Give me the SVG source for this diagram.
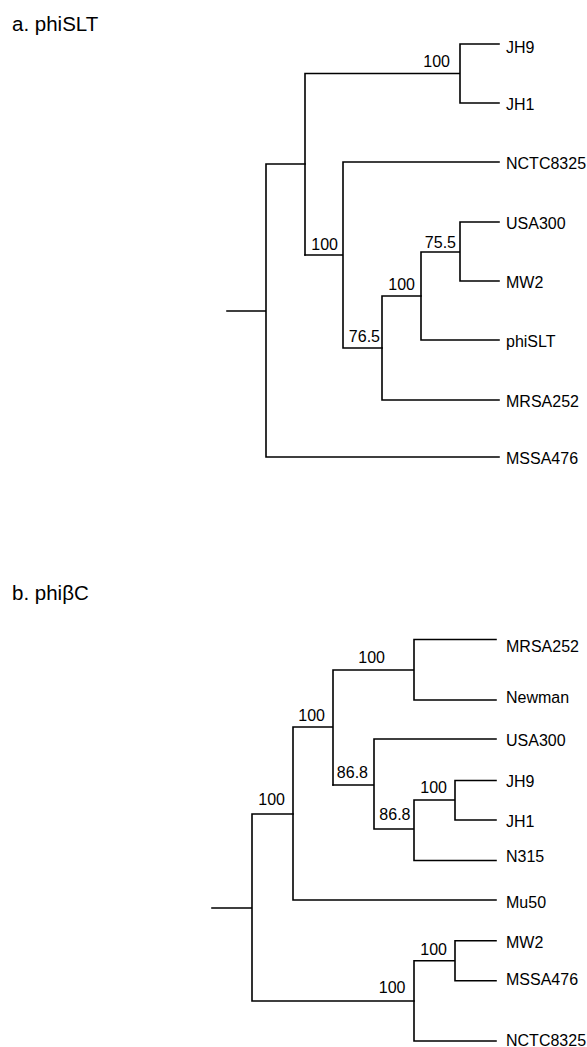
<svg xmlns="http://www.w3.org/2000/svg" width="587" height="1047" viewBox="0 0 587 1047">
<style>
.e{fill:none;stroke:#000;stroke-width:1.6;stroke-linecap:square}
.t{font-family:"Liberation Sans",Arial,sans-serif;font-size:16px;fill:#000}
.b{font-family:"Liberation Sans",Arial,sans-serif;font-size:16px;fill:#000;text-anchor:end}
.h{font-family:"Liberation Sans",Arial,sans-serif;font-size:20.5px;fill:#000}
</style>
<rect width="587" height="1047" fill="#fff"/>
<text class="h" x="12" y="31">a. phiSLT</text>
<text class="h" x="12" y="600">b. phiβC</text>

<g id="connectors">
  <!-- tree a -->
  <path class="e" d="M227,311H266M266,164V457M266,164H305M266,457H499"/>
  <path class="e" d="M305,73.5V255M305,73.5H460M460,44V103M460,44H499M460,103H499"/>
  <path class="e" d="M305,255H343M343,162V348M343,162H499M343,348H382"/>
  <path class="e" d="M382,296V400M382,400H499M382,296H421"/>
  <path class="e" d="M421,252V340M421,340H499M421,252H460M460,222V281M460,222H499M460,281H499"/>
  <!-- tree b -->
  <path class="e" d="M212,908H252M252,814V1001M252,814H293M252,1001H414"/>
  <path class="e" d="M293,727V900M293,900H496M293,727H333M333,670V785M333,670H414M414,639.5V700M414,639.5H496M414,700H496"/>
  <path class="e" d="M333,785H374M374,739V829M374,739H496M374,829H414M414,800V860.5M414,860.5H496M414,800H455M455,780.5V820M455,780.5H496M455,820H496"/>
  <path class="e" d="M414,960.7V1041M414,1041H496M414,960.7H455M455,940.7V980.7M455,940.7H496M455,980.7H496"/>
</g>

<g id="tree-a-supports">
  <text class="b" x="450" y="67">100</text>
  <text class="b" x="338" y="250">100</text>
  <text class="b" x="380" y="342">76.5</text>
  <text class="b" x="415" y="290">100</text>
  <text class="b" x="456" y="248">75.5</text>
</g>
<g id="tree-b-supports">
  <text class="b" x="385" y="663">100</text>
  <text class="b" x="368" y="778">86.8</text>
  <text class="b" x="325" y="721">100</text>
  <text class="b" x="447" y="793">100</text>
  <text class="b" x="410.5" y="820">86.8</text>
  <text class="b" x="285" y="805">100</text>
  <text class="b" x="405.5" y="993">100</text>
  <text class="b" x="447" y="955">100</text>
</g>

<g id="a-JH9"><text class="t" x="506" y="52.5">JH9</text></g>
<g id="a-JH1"><text class="t" x="506" y="110">JH1</text></g>
<g id="a-NCTC8325"><text class="t" x="506" y="169">NCTC8325</text></g>
<g id="a-USA300"><text class="t" x="506" y="229">USA300</text></g>
<g id="a-MW2"><text class="t" x="506" y="288">MW2</text></g>
<g id="a-phiSLT"><text class="t" x="506" y="346.5">phiSLT</text></g>
<g id="a-MRSA252"><text class="t" x="506" y="406.5">MRSA252</text></g>
<g id="a-MSSA476"><text class="t" x="506" y="463.5">MSSA476</text></g>

<g id="b-MRSA252"><text class="t" x="506" y="652">MRSA252</text></g>
<g id="b-Newman"><text class="t" x="506" y="703">Newman</text></g>
<g id="b-USA300"><text class="t" x="506" y="746">USA300</text></g>
<g id="b-JH9"><text class="t" x="506" y="787">JH9</text></g>
<g id="b-JH1"><text class="t" x="506" y="827">JH1</text></g>
<g id="b-N315"><text class="t" x="506" y="862">N315</text></g>
<g id="b-Mu50"><text class="t" x="506" y="908">Mu50</text></g>
<g id="b-MW2"><text class="t" x="506" y="948">MW2</text></g>
<g id="b-MSSA476"><text class="t" x="506" y="985">MSSA476</text></g>
<g id="b-NCTC8325"><text class="t" x="506" y="1046">NCTC8325</text></g>
</svg>
